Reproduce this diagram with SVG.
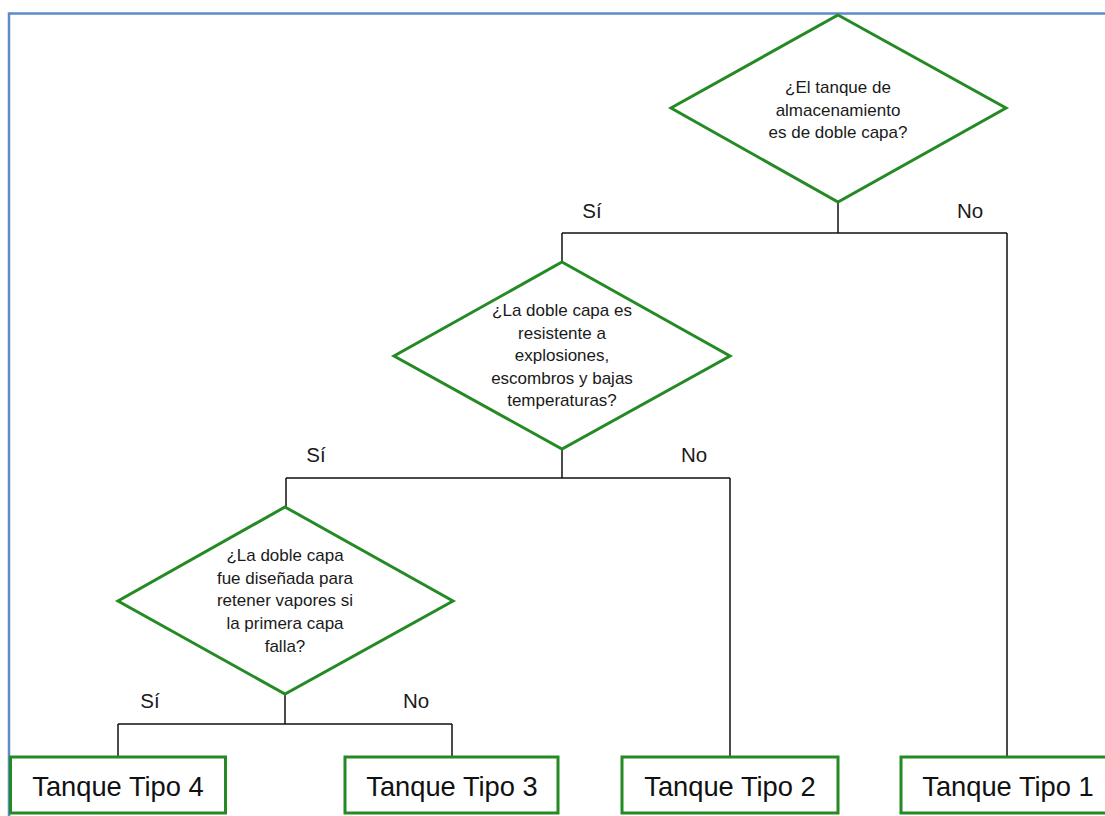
<svg xmlns="http://www.w3.org/2000/svg" width="1105" height="816" viewBox="0 0 1105 816">
<style>
.frame{fill:none;stroke:#5f8bc9;stroke-width:2.5}
.dec{fill:#fff;stroke:#248a24;stroke-width:3;stroke-linejoin:miter}
.box{fill:#fff;stroke:#248a24;stroke-width:3}
.conn{fill:none;stroke:#111;stroke-width:1.5}
.q{font-family:"Liberation Sans",Arial,sans-serif;font-size:17px;fill:#1a1a1a;text-anchor:middle}
.lbl{font-family:"Liberation Sans",Arial,sans-serif;font-size:20.5px;fill:#1a1a1a;text-anchor:middle}
.t{font-family:"Liberation Sans",Arial,sans-serif;font-size:27.3px;fill:#111;text-anchor:middle}
</style>
<rect width="1105" height="816" fill="#fff"/>
<rect class="frame" x="9" y="13.5" width="1120" height="830"/>
<g id="connectors">
<path class="conn" d="M838,202 V233 M562,233 H1007 M562,233 V262 M1007,233 V757"/>
<path class="conn" d="M562,449 V478 M286,478 H730 M286,478 V507 M730,478 V757"/>
<path class="conn" d="M285,694 V724 M118,724 H452 M118,724 V757 M452,724 V757"/>
<text class="lbl" x="592" y="218">Sí</text>
<text class="lbl" x="970" y="218">No</text>
<text class="lbl" x="316" y="462">Sí</text>
<text class="lbl" x="694" y="462">No</text>
<text class="lbl" x="150" y="708">Sí</text>
<text class="lbl" x="416" y="708">No</text>
</g>
<g id="d1">
<polygon class="dec" points="838,15 1006,108 838,202 671,108"/>
<text class="q" x="838" y="93">¿El tanque de</text>
<text class="q" x="838" y="116">almacenamiento</text>
<text class="q" x="838" y="138">es de doble capa?</text>
</g>
<g id="d2">
<polygon class="dec" points="562,262 730,356 562,449 394,356"/>
<text class="q" x="562" y="316">¿La doble capa es</text>
<text class="q" x="562" y="339">resistente a</text>
<text class="q" x="562" y="361">explosiones,</text>
<text class="q" x="562" y="384">escombros y bajas</text>
<text class="q" x="562" y="406">temperaturas?</text>
</g>
<g id="d3">
<polygon class="dec" points="285,507 453,601 285,694 118,601"/>
<text class="q" x="285" y="561">¿La doble capa</text>
<text class="q" x="285" y="584">fue diseñada para</text>
<text class="q" x="285" y="606">retener vapores si</text>
<text class="q" x="285" y="629">la primera capa</text>
<text class="q" x="285" y="652">falla?</text>
</g>
<g id="t4">
<rect class="box" x="10.5" y="757" width="215" height="56"/>
<text class="t" x="118" y="796">Tanque Tipo 4</text>
</g>
<g id="t3">
<rect class="box" x="345" y="757" width="213" height="56"/>
<text class="t" x="452" y="796">Tanque Tipo 3</text>
</g>
<g id="t2">
<rect class="box" x="622" y="757" width="216" height="56"/>
<text class="t" x="730" y="796">Tanque Tipo 2</text>
</g>
<g id="t1">
<rect class="box" x="901" y="757" width="216" height="56"/>
<text class="t" x="1008" y="796">Tanque Tipo 1</text>
</g>
</svg>
